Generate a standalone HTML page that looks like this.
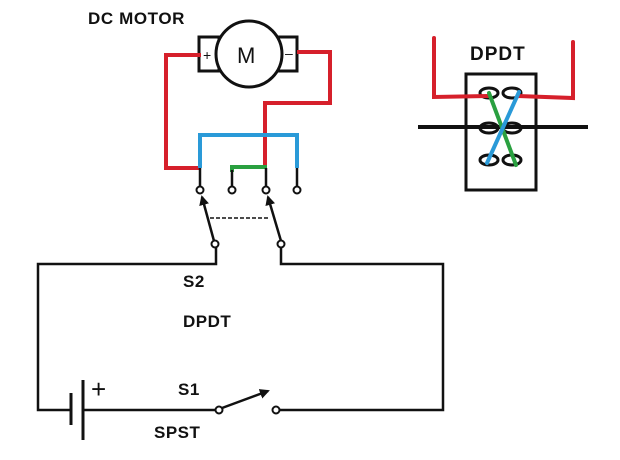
<!DOCTYPE html>
<html><head><style>
html,body{margin:0;padding:0;background:#fff;width:620px;height:460px;overflow:hidden}
svg{display:block}
text{font-family:"Liberation Sans",Arial,sans-serif;font-weight:bold;fill:#111}
</style></head><body>
<svg width="620" height="460" viewBox="0 0 620 460">
<defs><marker id="ar" markerWidth="10" markerHeight="10" refX="8" refY="5" orient="auto" markerUnits="userSpaceOnUse"><path d="M0,0 L10,5 L0,10 Z" fill="#111"/></marker></defs>
<g stroke="#111" stroke-width="3" fill="none">
<rect x="199" y="37" width="20" height="34" fill="#fff"/>
<rect x="277" y="37" width="20" height="34" fill="#fff"/>
<circle cx="249" cy="54" r="33" fill="#fff"/>
</g>
<text x="237" y="63" font-size="22" style="font-weight:normal">M</text>
<text x="203" y="60" font-size="14" style="font-weight:normal">+</text>
<text x="285" y="58" font-size="14" style="font-weight:normal">–</text>
<text x="88" y="24" font-size="17" letter-spacing="0.6">DC MOTOR</text>
<g fill="none" stroke-width="4">
<polyline points="201,55 166,55 166,168 200,168" stroke="#d6202b"/>
<polyline points="297,52 330,52 330,103 265,103 265,168" stroke="#d6202b"/>
<polyline points="200,168 200,135 297,135 297,168" stroke="#2a9ad8"/>
<polyline points="232,172 232,167 267,167" stroke="#2aa040"/>
</g>
<g stroke="#111" stroke-width="2.5" fill="none">
<line x1="200" y1="168" x2="200" y2="187"/>
<line x1="232" y1="170" x2="232" y2="187"/>
<line x1="266" y1="168" x2="266" y2="187"/>
<line x1="297" y1="168" x2="297" y2="187"/>
<line x1="214" y1="241" x2="202" y2="197" marker-end="url(#ar)"/>
<line x1="281" y1="241" x2="268" y2="197" marker-end="url(#ar)"/>
<line x1="210" y1="218" x2="268" y2="218" stroke-dasharray="4,2" stroke-width="1.5"/>
<polyline points="216,247 216,264 38,264 38,410 71,410"/>
<polyline points="281,247 281,264 443,264 443,410 279,410"/>
<line x1="83" y1="410" x2="216" y2="410"/>
<line x1="71" y1="393" x2="71" y2="425" stroke-width="3"/>
<line x1="83" y1="380" x2="83" y2="440" stroke-width="3"/>
<line x1="222" y1="408" x2="268" y2="391" marker-end="url(#ar)"/>
<g fill="#fff" stroke-width="2">
<circle cx="200" cy="190" r="3.5"/><circle cx="232" cy="190" r="3.5"/><circle cx="266" cy="190" r="3.5"/><circle cx="297" cy="190" r="3.5"/>
<circle cx="215" cy="244" r="3.5"/><circle cx="281" cy="244" r="3.5"/>
<circle cx="219" cy="410" r="3.5"/><circle cx="276" cy="410" r="3.5"/>
</g>
</g>
<text x="183" y="287" font-size="17" letter-spacing="0.5">S2</text>
<text x="183" y="327" font-size="17" letter-spacing="0.5">DPDT</text>
<text x="178" y="395" font-size="17" letter-spacing="0.5">S1</text>
<text x="154" y="438" font-size="17" letter-spacing="0.5">SPST</text>
<text x="91" y="398" font-size="26" style="font-weight:normal">+</text>
<text x="470" y="60" font-size="19" letter-spacing="1">DPDT</text>
<rect x="466" y="74" width="70" height="116" fill="none" stroke="#111" stroke-width="3"/>
<line x1="418" y1="127" x2="588" y2="127" stroke="#111" stroke-width="4"/>
<g fill="none" stroke="#111" stroke-width="3">
<ellipse cx="489" cy="93" rx="9" ry="5"/><ellipse cx="512" cy="93" rx="9" ry="5"/>
<ellipse cx="489" cy="128" rx="9" ry="5"/><ellipse cx="512" cy="128" rx="9" ry="5"/>
<ellipse cx="489" cy="160" rx="9" ry="5"/><ellipse cx="512" cy="160" rx="9" ry="5"/>
</g>
<g fill="none" stroke-width="4" stroke-linecap="round">
<polyline points="434,38 434,97 488,96" stroke="#d6202b"/>
<polyline points="573,42 573,98 518,96" stroke="#d6202b"/>
<line x1="489" y1="93" x2="516" y2="165" stroke="#2aa040"/>
<line x1="519" y1="92" x2="487" y2="163" stroke="#2a9ad8"/>
</g>
</svg>
</body></html>
